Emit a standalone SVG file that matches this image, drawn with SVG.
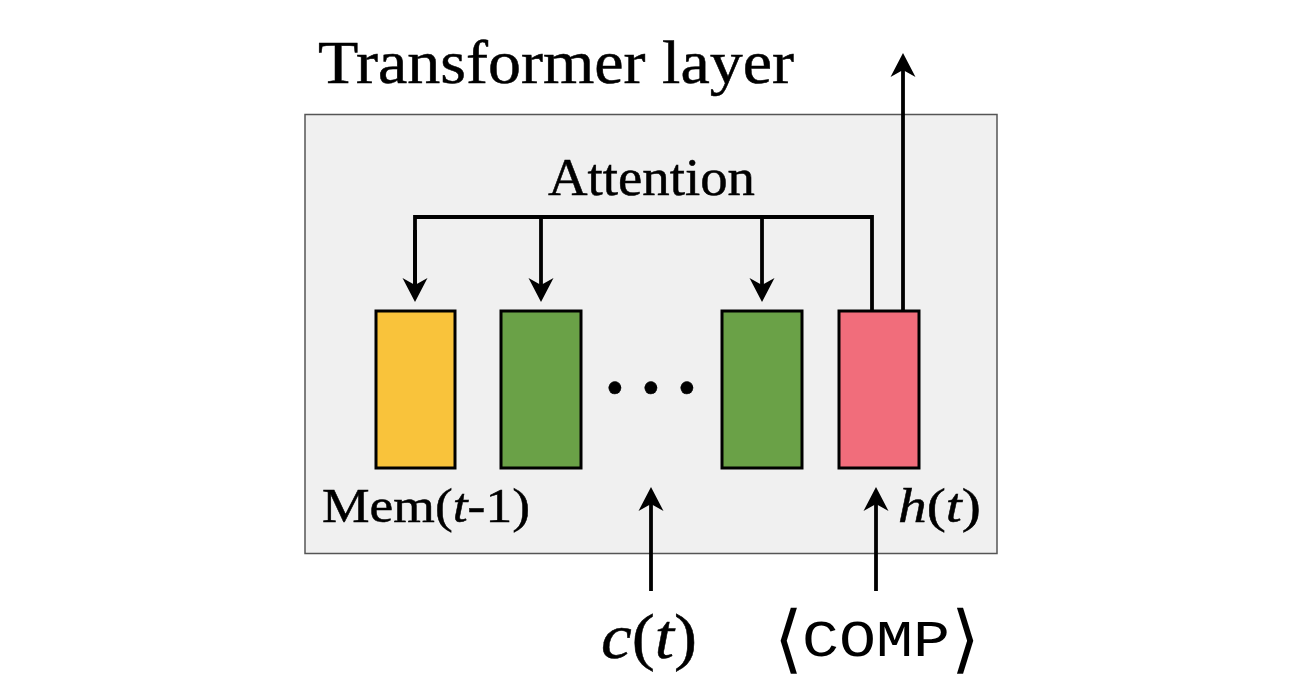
<svg xmlns="http://www.w3.org/2000/svg" width="1298" height="698" viewBox="0 0 1298 698">
<style>
.serif{font-family:"Liberation Serif","DejaVu Serif",serif;fill:#000;stroke:#000;stroke-width:0.5}
.it{font-style:italic}
.mono{font-family:"Liberation Mono","DejaVu Sans Mono",monospace;fill:#000}
.tok{stroke:#000;stroke-width:3}
.conn{fill:none;stroke:#000;stroke-width:3.8;stroke-linejoin:miter}
</style>
<defs>
<marker id="ah" markerUnits="userSpaceOnUse" markerWidth="40" markerHeight="40" viewBox="-20 -20 40 40" refX="0" refY="0" orient="auto" overflow="visible">
<path d="M11,0 L-13,-12.5 L-6,0 L-13,12.5 Z" fill="#000"/>
</marker>
</defs>
<rect width="1298" height="698" fill="#fff"/>
<text class="serif" x="318" y="83" font-size="61" textLength="476" lengthAdjust="spacingAndGlyphs">Transformer layer</text>
<g id="layer">
<rect x="305" y="114.5" width="692" height="439" fill="#f0f0f0" stroke="#555" stroke-width="1.5"/>
</g>
<text class="serif" x="548" y="195" font-size="53" textLength="207" lengthAdjust="spacingAndGlyphs">Attention</text>
<g id="mem">
<rect class="tok" x="376" y="311" width="79" height="157" fill="#f9c33b"/>
</g>
<g id="ctx1">
<rect class="tok" x="501" y="311" width="80" height="157" fill="#6aa147"/>
</g>
<g id="ctx2">
<rect class="tok" x="722" y="311" width="80" height="157" fill="#6aa147"/>
</g>
<g id="comp">
<rect class="tok" x="839" y="311" width="80" height="157" fill="#f16d7b"/>
</g>
<text class="serif" x="615 651 687" y="413" font-size="76" font-weight="bold" text-anchor="middle">···</text>
<text class="serif" x="322" y="522" font-size="49" textLength="208" lengthAdjust="spacingAndGlyphs">Mem(<tspan class="it">t</tspan>-1)</text>
<text class="serif" x="898" y="522" font-size="49" textLength="83" lengthAdjust="spacingAndGlyphs"><tspan class="it">h</tspan>(<tspan class="it">t</tspan>)</text>
<text class="serif" x="601" y="658" font-size="64" textLength="96" lengthAdjust="spacingAndGlyphs"><tspan class="it">c</tspan>(<tspan class="it">t</tspan>)</text>
<text x="774" y="664" font-family="DejaVu Sans,sans-serif" font-size="74" font-weight="200">⟨</text>
<text class="mono" x="802" y="656" font-size="52" textLength="148" lengthAdjust="spacingAndGlyphs">COMP</text>
<text x="951" y="664" font-family="DejaVu Sans,sans-serif" font-size="74" font-weight="200">⟩</text>
<g id="connectors">
<path class="conn" d="M415,292 V217 H872 V311"/>
<line class="conn" x1="415" y1="230" x2="415" y2="291" marker-end="url(#ah)"/>
<line class="conn" x1="541" y1="217" x2="541" y2="291" marker-end="url(#ah)"/>
<line class="conn" x1="762" y1="217" x2="762" y2="291" marker-end="url(#ah)"/>
<line class="conn" x1="903" y1="311" x2="903" y2="64" marker-end="url(#ah)"/>
<line class="conn" x1="651" y1="591" x2="651" y2="498" marker-end="url(#ah)"/>
<line class="conn" x1="876" y1="591" x2="876" y2="498" marker-end="url(#ah)"/>
</g>
</svg>
